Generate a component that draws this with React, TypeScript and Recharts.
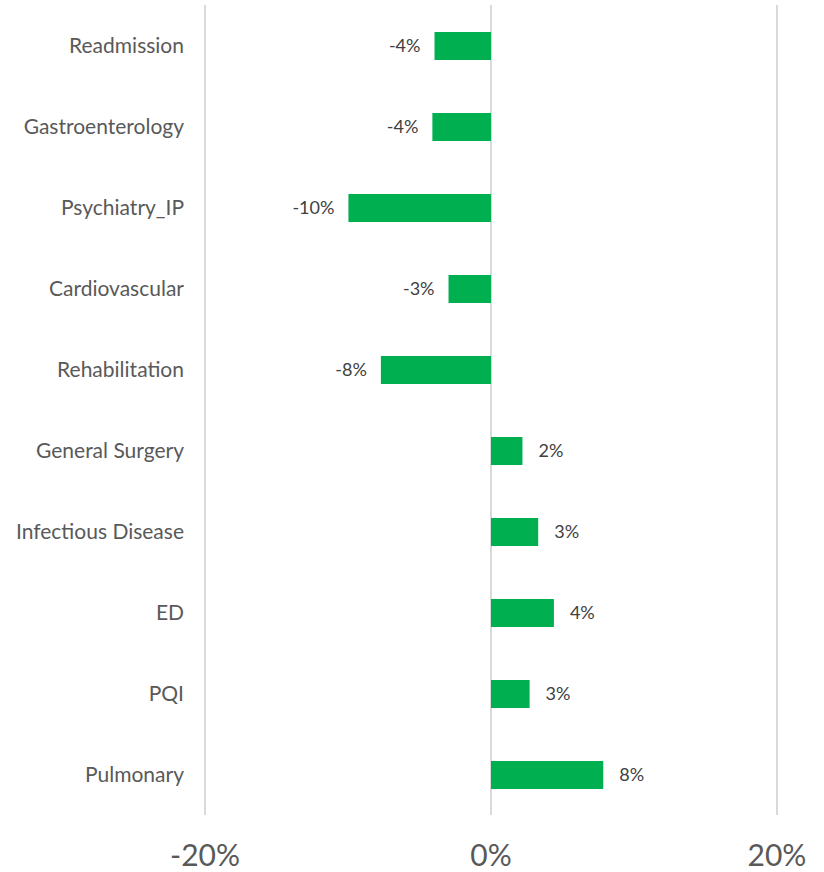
import React from 'react';
import { BarChart, Bar, XAxis, YAxis, CartesianGrid, LabelList } from 'recharts';

const categories = [
  'Readmission',
  'Gastroenterology',
  'Psychiatry_IP',
  'Cardiovascular',
  'Rehabilitation',
  'General Surgery',
  'Infectious Disease',
  'ED',
  'PQI',
  'Pulmonary',
];
const changes = [-0.0395, -0.041, -0.0997, -0.0297, -0.077, 0.022, 0.033, 0.044, 0.027, 0.0785];
const xTicks = [-0.2, 0, 0.2];

const data = categories.map((name, i) => ({ name, value: changes[i] }));

const FONT = 'Lato, "Open Sans", sans-serif';

const pct = (v: number) => `${Math.round(v * 100)}%`;

const CatTick = (props: any) => {
  const { x, y, payload } = props;
  return (
    <text x={x - 21} y={y} dy={7} textAnchor="end" fill="#595959" fontSize={21} fontFamily={FONT}>
      {payload.value}
    </text>
  );
};

const XTick = (props: any) => {
  const { x, y, payload } = props;
  return (
    <text x={x} y={y + 51} textAnchor="middle" fill="#595959" fontSize={30} fontFamily={FONT}>
      {pct(payload.value)}
    </text>
  );
};

const ValueLabel = (props: any) => {
  const { x, y, width, height, value } = props;
  const left = Math.min(x, x + width);
  const right = Math.max(x, x + width);
  const neg = value < 0;
  return (
    <text
      x={neg ? left - 14 : right + 16}
      y={y + height / 2}
      dy={6}
      textAnchor={neg ? 'end' : 'start'}
      fill="#404040"
      fontSize={18}
      fontFamily={FONT}
    >
      {pct(value)}
    </text>
  );
};

export default function App() {
  return (
    <div style={{ position: 'absolute', left: 0, top: 0, width: 824, height: 872, background: '#fff' }}>
      <BarChart
        width={824}
        height={872}
        data={data}
        layout="vertical"
        margin={{ top: 5, right: 47, bottom: 0, left: 0 }}
        barSize={28}
      >
        <CartesianGrid horizontal={false} stroke="#d9d9d9" strokeWidth={2} />
        <XAxis
          type="number"
          domain={[-0.2, 0.2]}
          ticks={xTicks}
          axisLine={false}
          tickLine={false}
          tickSize={0}
          tickMargin={0}
          height={57}
          tick={<XTick />}
          interval={0}
        />
        <YAxis
          type="category"
          dataKey="name"
          width={205}
          axisLine={false}
          tickLine={false}
          tickSize={0}
          tickMargin={0}
          tick={<CatTick />}
          interval={0}
        />
        <Bar dataKey="value" fill="#00B050" isAnimationActive={false}>
          <LabelList dataKey="value" content={<ValueLabel />} />
        </Bar>
      </BarChart>
    </div>
  );
}
